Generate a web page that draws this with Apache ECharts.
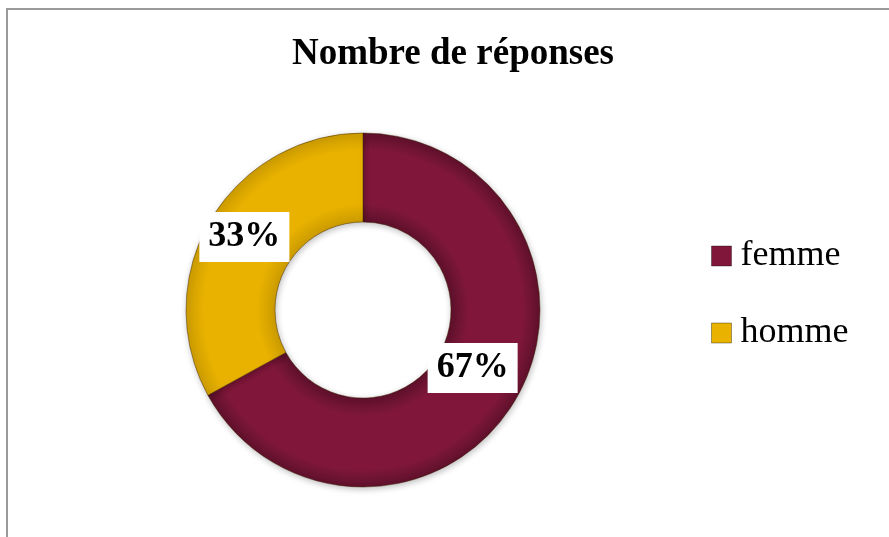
<!DOCTYPE html>
<html>
<head>
<meta charset="utf-8">
<script src="https://cdn.jsdelivr.net/npm/echarts@6/dist/echarts.min.js"></script>
<style>
  html, body { margin: 0; padding: 0; background: #fff; }
  #chart { width: 889px; height: 537px; }
</style>
</head>
<body>
<div id="chart"></div>
<script>
  const categories = ['femme', 'homme'];
  const values = [67, 33];
  const colors = ['#80173a', '#e9b200'];

  const FONT = '"Liberation Serif", "Times New Roman", serif';

  // nudge labels a little toward the hole, like the original
  const labelShift = [[-7, -11], [-2, -4]];

  const chart = echarts.init(document.getElementById('chart'));

  const option = {
    backgroundColor: '#fff',
    animation: false,
    title: {
      text: 'Nombre de réponses',
      left: 448,
      textAlign: 'center',
      top: 31,
      textStyle: {
        fontFamily: FONT,
        fontWeight: 'bold',
        fontSize: 37,
        color: '#000',
      },
    },
    legend: {
      orient: 'vertical',
      left: 711,
      top: 238,
      padding: 0,
      itemWidth: 20,
      itemHeight: 20,
      itemGap: 41,
      icon: 'rect',
      data: categories.map((name, i) => ({
        name,
        itemStyle: { color: colors[i], borderColor: 'rgba(0,0,0,0.35)', borderWidth: 1 },
      })),
      textStyle: {
        fontFamily: FONT,
        fontSize: 36,
        lineHeight: 36,
        color: '#000',
        padding: [0, 0, 0, 4],
      },
    },
    graphic: [
      {
        type: 'rect',
        shape: { x: 7, y: 9, width: 1000, height: 700 },
        style: { fill: 'none', stroke: '#9a9a9a', lineWidth: 2 },
        silent: true,
        z: -1,
      },
    ],
    series: [
      {
        type: 'pie',
        center: [363, 310],
        radius: [88, 177],
        startAngle: 90,
        clockwise: true,
        avoidLabelOverlap: false,
        itemStyle: {
          borderColor: 'rgba(60,30,0,0.45)',
          borderWidth: 1,
          shadowBlur: 6,
          shadowColor: 'rgba(0,0,0,0.25)',
          shadowOffsetX: 1,
          shadowOffsetY: 2,
        },
        label: {
          show: true,
          position: 'inside',
          formatter: '{d}%',
          fontFamily: FONT,
          fontWeight: 'bold',
          fontSize: 36,
          lineHeight: 40,
          color: '#000',
          backgroundColor: '#fff',
          padding: [5, 9, 5, 9],
        },
        labelLayout: (p) => ({ dx: labelShift[p.dataIndex][0], dy: labelShift[p.dataIndex][1] }),
        labelLine: { show: false },
        emphasis: { disabled: true },
        data: categories.map((name, i) => ({
          name,
          value: values[i],
          itemStyle: {
            color: new echarts.graphic.RadialGradient(363, 310, 177, [
              { offset: 0.5, color: echarts.color.modifyHSL(colors[i], null, null, i === 0 ? 0.22 : 0.4) },
              { offset: 0.6, color: colors[i] },
              { offset: 0.9, color: colors[i] },
              { offset: 1, color: echarts.color.modifyHSL(colors[i], null, null, i === 0 ? 0.22 : 0.4) },
            ], true),
          },
        })),
      },
    ],
  };

  chart.setOption(option);
</script>
</body>
</html>
